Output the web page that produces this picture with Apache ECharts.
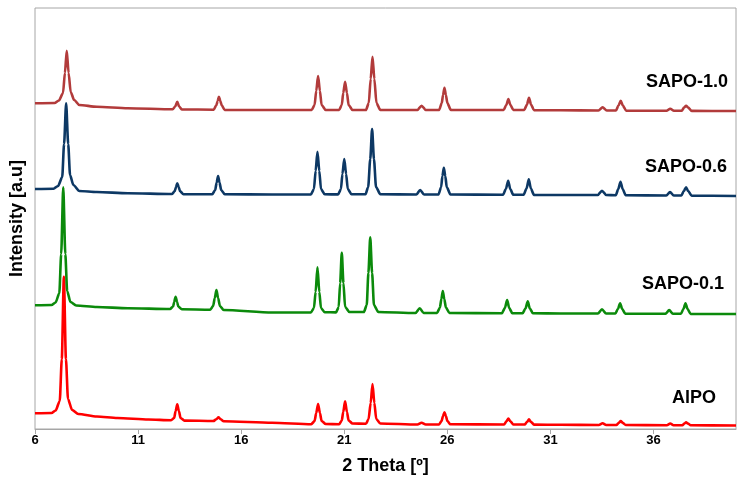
<!DOCTYPE html>
<html>
<head>
<meta charset="utf-8">
<script src="https://cdn.jsdelivr.net/npm/echarts@6/dist/echarts.min.js"></script>
<style>
  html, body { margin: 0; padding: 0; background: #fff; }
  #chart { width: 741px; height: 485px; }
</style>
</head>
<body>
<div id="chart"></div>
<script>
// sample names, bottom to top
const sampleNames = ["AlPO", "SAPO-0.1", "SAPO-0.6", "SAPO-1.0"];
const sampleColors = ["#ff0000", "#0b8a0b", "#0d3864", "#b23b3b"];

// x axis (2 theta)
const thetaMin = 6;
const thetaMax = 40;
const thetaStep = 5;

// patterns: [2theta, intensity (a.u., stacked)]
const alpo = [
  [6.0,157],[6.8,160],[7.0,185],[7.2,280],[7.3,700],[7.40,1523],[7.5,700],[7.6,300],[7.8,190],
  [8.1,150],[9.0,125],[10.0,110],[11.5,95],[12.6,88],
  [12.75,110],[12.82,180],[12.9,247],[12.98,180],[13.06,110],[13.25,84],
  [14.65,80],[14.8,98],[14.9,117],[15.0,98],[15.15,78],[17.5,62],
  [19.4,48],[19.56,80],[19.64,160],[19.73,250],[19.82,160],[19.9,80],[20.1,50],
  [20.75,48],[20.88,85],[20.95,170],[21.04,277],[21.13,170],[21.21,85],[21.4,55],
  [22.05,52],[22.18,100],[22.28,260],[22.37,450],[22.46,260],[22.55,100],[22.75,55],
  [24.55,45],[24.75,63],[24.95,45],
  [25.6,46],[25.72,80],[25.79,130],[25.86,167],[25.93,130],[26.0,80],[26.15,47],
  [28.75,45],[28.87,78],[28.96,105],[29.05,78],[29.2,45],
  [29.75,45],[29.87,72],[29.96,97],[30.05,72],[30.2,44],[31.5,42],
  [33.35,40],[33.53,57],[33.7,40],
  [34.2,40],[34.32,62],[34.41,80],[34.5,62],[34.65,40],
  [36.65,38],[36.81,55],[36.97,38],
  [37.4,38],[37.5,55],[37.58,67],[37.67,55],[37.8,37],[40.0,35]
];
const sapo01 = [
  [6.0,1237],[6.8,1240],[7.0,1265],[7.18,1360],[7.27,1750],[7.37,2417],[7.47,1750],[7.56,1380],[7.72,1270],
  [8.0,1235],[9.0,1220],[10.5,1208],[12.55,1200],
  [12.7,1225],[12.75,1270],[12.82,1323],[12.89,1270],[12.95,1225],[13.12,1197],
  [14.5,1193],[14.64,1230],[14.72,1310],[14.8,1390],[14.88,1310],[14.97,1230],[15.15,1190],[17.5,1165],
  [19.38,1165],[19.53,1210],[19.61,1370],[19.7,1617],[19.79,1370],[19.87,1210],[20.05,1168],
  [20.6,1166],[20.73,1220],[20.8,1460],[20.88,1763],[20.96,1460],[21.04,1220],[21.25,1170],
  [21.95,1170],[22.09,1240],[22.17,1560],[22.26,1917],[22.35,1560],[22.44,1240],[22.65,1170],
  [24.45,1160],[24.66,1207],[24.85,1160],
  [25.5,1160],[25.64,1215],[25.71,1300],[25.78,1380],[25.85,1300],[25.93,1215],[26.1,1160],
  [28.65,1158],[28.79,1210],[28.9,1290],[29.0,1210],[29.15,1158],
  [29.65,1158],[29.79,1205],[29.9,1277],[30.0,1205],[30.15,1157],[31.5,1155],
  [33.3,1155],[33.5,1197],[33.7,1155],
  [34.15,1155],[34.27,1200],[34.38,1257],[34.48,1200],[34.63,1153],
  [36.58,1152],[36.76,1190],[36.94,1152],
  [37.33,1152],[37.45,1200],[37.55,1257],[37.65,1200],[37.8,1150],[40.0,1150]
];
const sapo06 = [
  [6.0,2400],[6.9,2403],[7.12,2430],[7.32,2520],[7.41,2850],[7.51,3257],[7.61,2850],[7.7,2540],[7.86,2440],
  [8.15,2380],[9.0,2370],[10.5,2358],[12.65,2350],
  [12.78,2380],[12.84,2420],[12.9,2457],[12.97,2420],[13.03,2380],[13.2,2348],
  [14.6,2348],[14.74,2390],[14.81,2465],[14.88,2530],[14.95,2465],[15.03,2390],[15.2,2347],[17.5,2345],
  [19.38,2345],[19.53,2400],[19.61,2580],[19.7,2773],[19.79,2580],[19.87,2400],[20.05,2347],
  [20.7,2346],[20.84,2400],[20.91,2550],[21.0,2700],[21.09,2550],[21.17,2400],[21.35,2348],
  [22.03,2348],[22.16,2420],[22.26,2700],[22.35,3000],[22.44,2700],[22.54,2420],[22.75,2348],
  [24.5,2345],[24.68,2390],[24.87,2345],
  [25.57,2345],[25.7,2420],[25.76,2530],[25.83,2613],[25.9,2530],[25.97,2420],[26.15,2345],
  [28.7,2342],[28.84,2400],[28.95,2483],[29.05,2400],[29.2,2342],
  [29.7,2342],[29.84,2405],[29.95,2497],[30.05,2405],[30.2,2341],[31.5,2340],
  [33.3,2340],[33.5,2383],[33.7,2340],
  [34.17,2338],[34.29,2400],[34.4,2473],[34.5,2400],[34.65,2337],
  [36.62,2335],[36.8,2370],[36.98,2335],
  [37.35,2335],[37.47,2380],[37.58,2417],[37.68,2380],[37.85,2333],[40.0,2330]
];
const sapo10 = [
  [6.0,3257],[6.95,3260],[7.16,3285],[7.36,3360],[7.45,3560],[7.54,3783],[7.63,3560],[7.73,3370],[7.9,3290],
  [8.15,3240],[9.0,3222],[10.5,3208],[12.68,3197],
  [12.8,3225],[12.9,3273],[12.99,3225],[13.12,3196],
  [14.67,3193],[14.8,3240],[14.86,3280],[14.92,3323],[14.99,3280],[15.05,3240],[15.2,3190],[17.5,3190],
  [19.42,3190],[19.56,3240],[19.64,3380],[19.73,3530],[19.82,3380],[19.9,3240],[20.1,3190],
  [20.75,3190],[20.88,3240],[20.95,3360],[21.04,3473],[21.13,3360],[21.21,3240],[21.4,3190],
  [22.05,3190],[22.19,3260],[22.28,3500],[22.37,3723],[22.46,3500],[22.56,3260],[22.75,3190],
  [24.55,3190],[24.75,3233],[24.95,3190],
  [25.6,3190],[25.73,3260],[25.79,3340],[25.86,3413],[25.93,3340],[26.0,3260],[26.17,3190],
  [28.73,3190],[28.86,3240],[28.96,3300],[29.06,3240],[29.2,3190],
  [29.73,3190],[29.86,3245],[29.96,3313],[30.06,3245],[30.2,3189],[31.5,3187],
  [33.33,3185],[33.53,3217],[33.73,3185],
  [34.18,3185],[34.3,3235],[34.41,3283],[34.51,3235],[34.67,3184],
  [36.63,3182],[36.81,3203],[36.99,3182],
  [37.37,3182],[37.48,3215],[37.58,3233],[37.68,3215],[37.85,3181],[40.0,3180]
];
const patterns = [alpo, sapo01, sapo06, sapo10];

const chart = echarts.init(document.getElementById("chart"));

const font = "Liberation Sans, Arial, sans-serif";
// label spots (right edge, middle) next to each curve
const labelSpots = [[716, 398], [724, 284], [727, 167], [728, 82]];

const option = {
  animation: false,
  grid: {
    left: 32,
    top: 8,
    right: 5,
    bottom: 56,
    show: true,
    borderColor: "#a6a6a6",
    borderWidth: 1,
  },
  xAxis: {
    type: "value",
    min: thetaMin,
    max: thetaMax,
    interval: thetaStep,
    name: "2 Theta [º]",
    nameLocation: "middle",
    nameGap: 28,
    nameTextStyle: { fontFamily: font, fontSize: 18, fontWeight: "bold", color: "#000" },
    axisLine: { lineStyle: { color: "#a6a6a6", width: 1 } },
    axisTick: { show: true, length: 5, lineStyle: { color: "#a6a6a6" } },
    axisLabel: {
      margin: 5,
      showMaxLabel: false,
      fontFamily: font,
      fontSize: 13,
      fontWeight: "bold",
      color: "#000",
    },
    splitLine: { show: false },
  },
  yAxis: {
    type: "value",
    min: 0,
    max: 4210,
    name: "Intensity [a.u]",
    nameLocation: "middle",
    nameGap: 9,
    nameRotate: 90,
    nameTextStyle: { fontFamily: font, fontSize: 18, fontWeight: "bold", color: "#000" },
    axisLine: { show: false },
    axisTick: { show: false },
    axisLabel: { show: false },
    splitLine: { show: false },
  },
  graphic: sampleNames.map((name, i) => ({
    type: "text",
    x: labelSpots[i][0],
    y: labelSpots[i][1],
    style: {
      text: name,
      font: "bold 18px " + font,
      fill: "#000",
      textAlign: "right",
      textVerticalAlign: "middle",
    },
  })),
  series: patterns.map((data, i) => ({
    name: sampleNames[i],
    type: "line",
    data: data,
    showSymbol: false,
    smooth: 0.25,
    smoothMonotone: "x",
    lineStyle: { color: sampleColors[i], width: 2.6, join: "round" },
    z: 2 + i,
  })),
};
chart.setOption(option);
</script>
</body>
</html>
